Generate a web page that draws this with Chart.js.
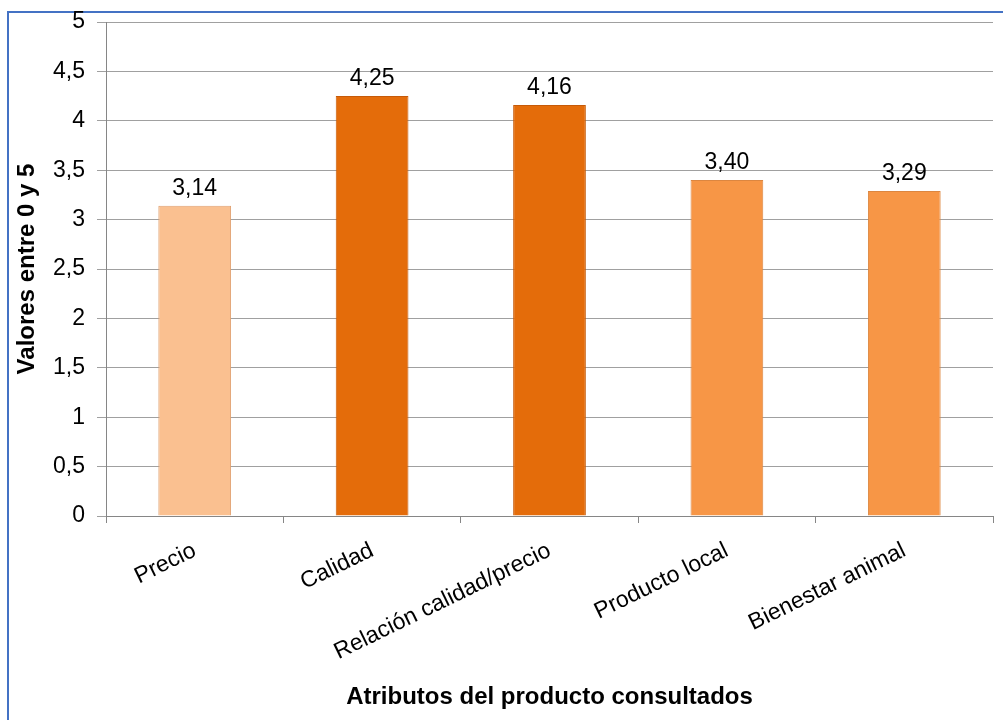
<!DOCTYPE html>
<html>
<head>
<meta charset="utf-8">
<script src="https://cdn.jsdelivr.net/npm/chart.js@4.4.1/dist/chart.umd.min.js"></script>
<style>
    body { margin: 0; background: #fff; }
    #wrap { position: relative; width: 1003px; height: 720px; overflow: hidden; }
    #frame { position: absolute; left: 7px; top: 11px; width: 1100px; height: 800px;
             border-left: 2px solid #4472C4; border-top: 2px solid #4472C4; }
    canvas { position: absolute; left: 0; top: 0; }
</style>
</head>
<body>
<div id="wrap">
    <div id="frame"></div>
    <canvas id="myBars" width="1003" height="720"></canvas>
</div>
<script>
var categories = ["Precio", "Calidad", "Relación calidad/precio", "Producto local", "Bienestar animal"];
var values = [3.14, 4.25, 4.16, 3.40, 3.29];
var barColors = ["#FAC090", "#E46C0A", "#E46C0A", "#F79646", "#F79646"];
var borderColors = ["#E0A070", "#C65A08", "#C65A08", "#DC8640", "#DC8640"];
var yTicks = [0, 0.5, 1, 1.5, 2, 2.5, 3, 3.5, 4, 4.5, 5];

var comma = function (v) {
    return String(v).replace('.', ',');
};

// values written above each bar, e.g. "3,14"
var valueLabels = {
    id: 'valueLabels',
    afterDatasetsDraw: function (chart) {
        var ctx = chart.ctx;
        var meta = chart.getDatasetMeta(0);
        ctx.save();
        ctx.font = '23px "Liberation Sans", Arial, sans-serif';
        ctx.fillStyle = '#000';
        ctx.textAlign = 'center';
        ctx.textBaseline = 'alphabetic';
        meta.data.forEach(function (bar, i) {
            ctx.fillText(values[i].toFixed(2).replace('.', ','), bar.x, bar.y - 11);
        });
        ctx.restore();
    }
};

var ctx = document.getElementById("myBars");
var myBarChart = new Chart(ctx, {
    type: 'bar',
    data: {
        labels: categories,
        datasets: [{
            data: values,
            backgroundColor: barColors,
            borderColor: borderColors,
            borderWidth: 1,
            barPercentage: 0.41,
            categoryPercentage: 1
        }]
    },
    plugins: [valueLabels],
    options: {
        responsive: false,
        animation: false,
        layout: {
            padding: { top: 22, right: 10, bottom: 8, left: 13 }
        },
        plugins: {
            legend: { display: false },
            tooltip: { enabled: false }
        },
        scales: {
            y: {
                min: 0,
                max: 5,
                afterBuildTicks: function (scale) {
                    scale.ticks = yTicks.map(function (v) { return { value: v }; });
                },
                afterFit: function (scale) {
                    scale.width = 93;
                    scale.paddingTop = 0;
                    scale.paddingBottom = 0;
                },
                ticks: {
                    callback: function (v) { return comma(v); },
                    color: '#000',
                    padding: 12,
                    font: { family: '"Liberation Sans", Arial, sans-serif', size: 23 }
                },
                grid: {
                    color: '#A0A0A0',
                    lineWidth: 1,
                    tickLength: 9
                },
                border: { color: '#868686', width: 1 },
                title: {
                    display: true,
                    text: 'Valores entre 0 y 5',
                    color: '#000',
                    padding: { top: 0, bottom: 0 },
                    font: { family: '"Liberation Sans", Arial, sans-serif', size: 24, weight: 'bold' }
                }
            },
            x: {
                afterFit: function (scale) {
                    scale.height = 196;
                },
                ticks: {
                    color: '#000',
                    minRotation: 26,
                    maxRotation: 26,
                    padding: 14,
                    font: { family: '"Liberation Sans", Arial, sans-serif', size: 23 }
                },
                grid: {
                    drawOnChartArea: false,
                    color: '#868686',
                    tickLength: 7
                },
                border: { color: '#868686', width: 1 },
                title: {
                    display: true,
                    text: 'Atributos del producto consultados',
                    color: '#000',
                    padding: { top: 0, bottom: 0 },
                    font: { family: '"Liberation Sans", Arial, sans-serif', size: 24, weight: 'bold' }
                }
            }
        }
    }
});
</script>
</body>
</html>
